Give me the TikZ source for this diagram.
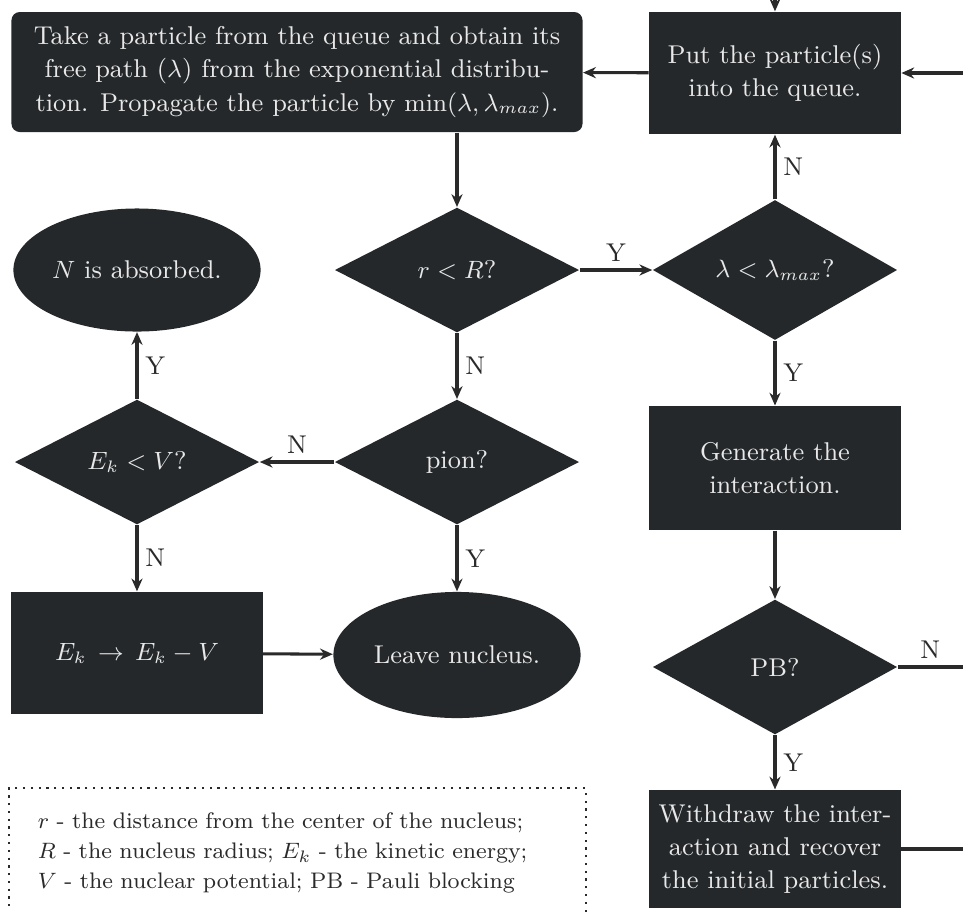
\documentclass[tikz,border=0pt]{standalone}
\usetikzlibrary{shapes.geometric,arrows.meta}
\definecolor{boxgray}{HTML}{25282A}
\definecolor{inkgray}{HTML}{2A2A2A}
\definecolor{paper}{HTML}{E8E8E8}
\begin{document}
\begin{tikzpicture}[x=0.36pt,y=-0.36pt,font=\fontsize{9.25}{11.9}\selectfont,
    block/.style={rectangle, fill=boxgray, text=paper, inner sep=0pt,
      minimum width=90.6pt, minimum height=44pt, align=center},
    decision/.style={diamond, fill=boxgray, text=paper, inner sep=0pt,
      minimum width=88pt, minimum height=45pt},
    terminal/.style={ellipse, fill=boxgray, text=paper, inner sep=0pt,
      minimum width=89pt, minimum height=44.3pt},
    flow/.style={line width=1.1pt, draw=inkgray, -{Stealth[length=4.6pt,width=4pt]}},
    plain/.style={line width=1.1pt, draw=inkgray},
    answer/.style={text=inkgray, inner sep=2.5pt}]
  \clip (0,0) rectangle (963,911);
  \fill [white] (0,0) rectangle (963,911);

  \node [block, rounded corners=3pt, minimum width=205.6pt, minimum height=43.2pt] (take) at (297,72)
    {Take a particle from the queue and obtain its\\
     free path ($\lambda$) from the exponential distribu-\\
     tion. Propagate the particle by $\min(\lambda, \lambda_{max})$.};
  \node [block] (put) at (775,73) {Put the particle(s)\\into the queue.};

  \node [decision] (inside) at (457,270) {$r < R$?};
  \node [decision, minimum height=46.5pt] (free) at (775,270) {$\lambda < \lambda_{max}$?};
  \node [terminal] (absorbed) at (137,270) {$N$ is absorbed.};

  \node [decision] (bound) at (137,462) {$E_k < V$?};
  \node [decision] (pion) at (457,462) {pion?};
  \node [block, minimum height=44.6pt] (interact) at (775,468) {Generate the\\interaction.};

  \node [block, minimum width=90.4pt] (shift) at (137,653) {$E_k \,\rightarrow\, E_k - V$};
  \node [terminal, minimum height=45.4pt] (leave) at (457,655) {Leave nucleus.};
  \node [decision, minimum height=48.6pt] (pauli) at (775,667) {PB?};

  \node [block, minimum height=42.5pt] (withdraw) at (775,849)
    {Withdraw the inter-\\action and recover\\the initial particles.};

  \node [draw=inkgray, dotted, thick, text=inkgray, align=left, anchor=north west,
    font=\fontsize{8.1}{10.8}\selectfont, inner xsep=10.2pt,
    minimum width=207.7pt, minimum height=46.8pt, text width=187pt] (legend) at (8,787)
    {$r$ - the distance from the center of the nucleus;\\
     $R$ - the nucleus radius; $E_k$ - the kinetic energy;\\
     $V$ - the nuclear potential; PB - Pauli blocking};

  \coordinate (edge) at (963,0);
  \coordinate (fromtop) at (775,-30);

  \draw [flow] (fromtop) -- (put);
  \draw [flow] (put.east -| edge) -- (put);
  \draw [flow] (put) -- (take);
  \draw [flow] (take.south -| inside) -- (inside);
  \draw [flow] (inside) -- (free) node [answer, midway, above] {Y};
  \draw [flow] (free) -- (put) node [answer, midway, right] {N};
  \draw [flow] (inside) -- (pion) node [answer, midway, right] {N};
  \draw [flow] (free) -- (interact) node [answer, midway, right] {Y};
  \draw [flow] (pion) -- (bound) node [answer, midway, above] {N};
  \draw [flow] (bound) -- (absorbed) node [answer, midway, right] {Y};
  \draw [flow] (bound) -- (shift) node [answer, midway, right] {N};
  \draw [flow] (pion) -- (leave) node [answer, midway, right] {Y};
  \draw [flow] (shift) -- (leave);
  \draw [flow] (interact) -- (pauli);
  \draw [flow] (pauli) -- (withdraw) node [answer, midway, right] {Y};
  \draw [plain] (pauli) -- (pauli.east -| edge) node [answer, midway, above] {N};
  \draw [plain] (withdraw) -- (withdraw.east -| edge);
\end{tikzpicture}
\end{document}
